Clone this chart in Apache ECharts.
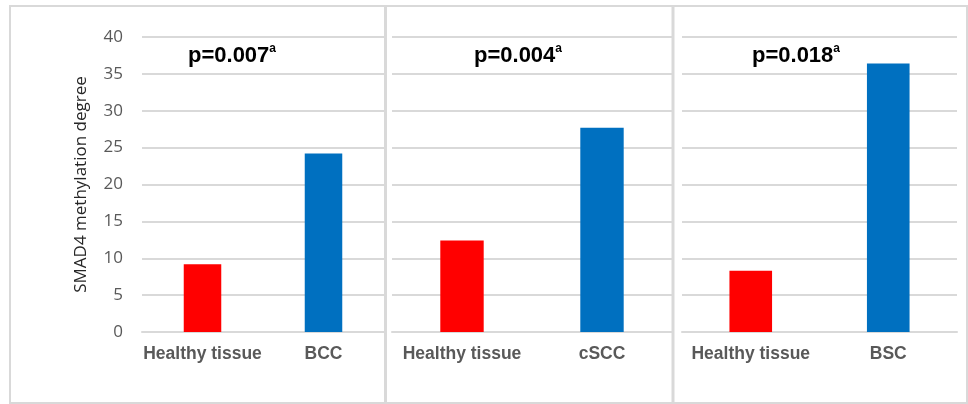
<!DOCTYPE html>
<html>
<head>
<meta charset="utf-8">
<script src="https://cdn.jsdelivr.net/npm/echarts@6/dist/echarts.min.js"></script>
<style>html,body{margin:0;padding:0;background:#fff}#c{width:968px;height:404px}</style>
</head>
<body>
<div id="c"></div>
<script>
// ---- data ----
const tumorTypes = ['BCC', 'cSCC', 'BSC'];
const healthyLabel = 'Healthy tissue';
const healthyValues = [9.2, 12.4, 8.3];
const tumorValues = [24.2, 27.7, 36.4];
const pValues = ['p=0.007', 'p=0.004', 'p=0.018'];
const pSuperscripts = ['a', 'a', 'a'];
const yAxisName = 'SMAD4 methylation degree';
const yMin = 0, yMax = 40, yInterval = 5;

// ---- layout / style ----
const FONT = '"Liberation Sans", Arial, sans-serif';
const FONT2 = '"Open Sans", "Liberation Sans", sans-serif';
const gridBoxes = [
  {left: 142, width: 242},
  {left: 392, width: 280},
  {left: 682, width: 275}
];
const titlePos = [188, 474, 752];
const gridTop = 37, gridBottom = 72;
const RED = '#FF0000', BLUE = '#0070C0';
const GRID_COLOR = '#d9d9d9';

const chart = echarts.init(document.getElementById('c'), null, {renderer: 'canvas'});

const grid = gridBoxes.map(g => ({left: g.left, width: g.width, top: gridTop, bottom: gridBottom, containLabel: false}));
const xAxis = tumorTypes.map((t, i) => ({
  type: 'category', gridIndex: i, data: [healthyLabel, t],
  axisTick: {show: false},
  axisLine: {show: true, lineStyle: {color: GRID_COLOR, width: 2}},
  axisLabel: {interval: 0, hideOverlap: false, margin: 13, color: '#595959', fontWeight: 'bold', fontSize: 17.5, fontFamily: FONT}
}));
const yAxis = tumorTypes.map((t, i) => ({
  type: 'value', gridIndex: i, min: yMin, max: yMax, interval: yInterval,
  axisLine: {show: false}, axisTick: {show: false},
  splitLine: {show: true, lineStyle: {color: GRID_COLOR, width: 2}},
  axisLabel: {show: i === 0, margin: 19, color: '#595959', fontSize: 17, fontFamily: FONT2},
  name: i === 0 ? yAxisName : '',
  nameLocation: 'middle', nameGap: 52,
  nameTextStyle: {color: '#262626', fontSize: 17, fontFamily: FONT2}
}));
const series = tumorTypes.map((t, i) => ({
  type: 'bar', xAxisIndex: i, yAxisIndex: i, barWidth: '31%',
  silent: true,
  data: [
    {value: healthyValues[i], itemStyle: {color: RED}},
    {value: tumorValues[i], itemStyle: {color: BLUE}}
  ]
}));
const title = pValues.map((p, i) => ({
  left: titlePos[i], top: 39, padding: 0,
  text: '{m|' + p + '}{s|' + pSuperscripts[i] + '}',
  textStyle: {
    rich: {
      m: {fontSize: 22, fontWeight: 'bold', color: '#000', fontFamily: FONT, lineHeight: 34},
      s: {fontSize: 12, fontWeight: 'bold', color: '#000', fontFamily: FONT, lineHeight: 14, verticalAlign: 'top', padding: [4, 0, 0, 0]}
    }
  }
}));

chart.setOption({
  animation: false,
  backgroundColor: '#fff',
  title, grid, xAxis, yAxis, series,
  graphic: [
    {type: 'rect', shape: {x: 10, y: 6, width: 957, height: 397}, style: {fill: null, stroke: GRID_COLOR, lineWidth: 2}, silent: true, z: -1},
    {type: 'rect', shape: {x: 384, y: 6, width: 3, height: 398}, style: {fill: GRID_COLOR}, silent: true, z: -1},
    {type: 'rect', shape: {x: 671.5, y: 6, width: 3, height: 398}, style: {fill: GRID_COLOR}, silent: true, z: -1}
  ]
});
</script>
</body>
</html>
